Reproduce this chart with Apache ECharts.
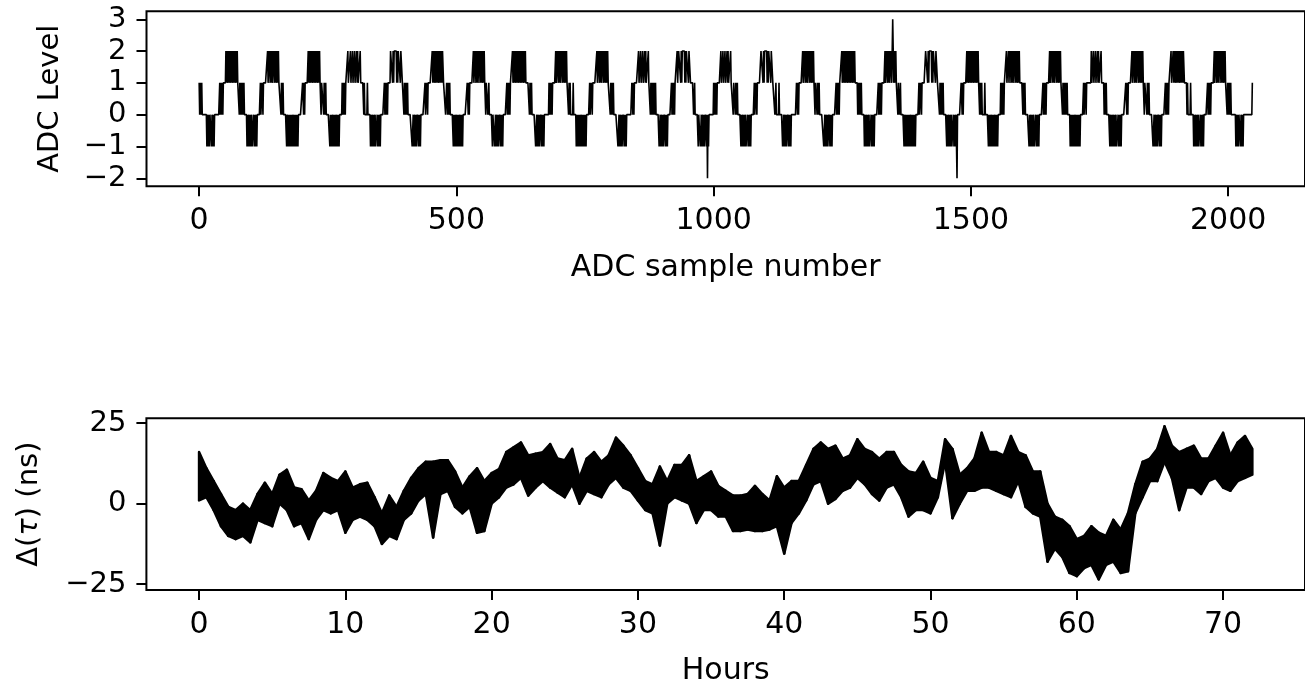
<!DOCTYPE html>
<html><head><meta charset="utf-8">
<script src="https://cdn.jsdelivr.net/npm/echarts@6/dist/echarts.min.js"></script>
<style>html,body{margin:0;padding:0;background:#fff}#chart{width:1305px;height:687px}</style>
</head><body><div id="chart"></div>
<script>
// ---------- DATA ----------
// Top panel: ADC levels, one character per sample ('=' -2, '-' -1, '0' 0, '1' 1, '2' 2, '3' 3)
const adcCycles = [
  "1010010000000" + "00-00-0-000-00-0-00000" + "00000101011011111" + "212212122121221212212121" + "1101",
  "0110100100000" + "-0--0-0--0---0-0--0-00" + "00001001101111111" + "121122121211221212112121" + "1110",
  "1001000000-00" + "-0-0-0-0--0-0-0-0-0-00" + "00000011010111111" + "212212122121221212212121" + "1011",
  "1101001000000" + "0-0-0--0-0-0--0-0-0-00" + "00010010101111211" + "112111211121112121111211" + "1111",
  "0100000100000" + "-0--0-0--0---0-0--0-00" + "00000101011011111" + "222212122222121222212221" + "1101",
  "1010010000000" + "0--0--0-0--00-0-0-0000" + "00001001101111111" + "121212212121221212121221" + "1110",
  "0110100100000" + "0-0-0--0-0-0--0-0-0-00" + "00000011010111111" + "121122121211221212112121" + "1011",
  "1001000000-00" + "0--0--0-0--00-0-0-0000" + "00010010101111211" + "212212122121221212212121" + "1111",
  "1101001000000" + "0--0--0-0--00-0-0-0000" + "00000101011011111" + "121122121211221212112121" + "1101",
  "0100000100000" + "-0-0-0-0--0-0-0-0-0-00" + "00001001101111111" + "121122121211221212112121" + "1110",
  "1010010000000" + "0--0--0-0--00-0-0-0000" + "00000011010111111" + "112111211121112121111211" + "1011",
  "0110100100000" + "0--0--0-0--00-0-0-0000" + "00010010101111211" + "222212122222121222212221" + "1111",
  "1001000000-00" + "0--0--0-0--00-0=0-0000" + "00000101011011111" + "112111211121112121111211" + "1101",
  "1101001000000" + "-0--0-0--0---0-0--0-00" + "00001001101111111" + "222212122222121222212221" + "1110",
  "0100000100000" + "0--0--0-0--00-0-0-0000" + "00000011010111111" + "121122121211221212112121" + "1011",
  "1010010000000" + "0--0--0-0--00-0-0-0000" + "00010010101111211" + "212212122121221212212121" + "1111",
  "0110100100000" + "-0--0-0--0---0-0--0-00" + "00000101011011111" + "121122121211221232112121" + "1101",
  "1001000000-00" + "-0-0-0-0--0-0-0-0-0-00" + "00001001101111111" + "222212122222121222212221" + "1110",
  "1101001000000" + "-0--0-0--0---0-0--0-=0" + "00000011010111111" + "212212122121221212212121" + "1011",
  "0100000100000" + "0-0-0--0-0-0--0-0-0-00" + "00010010101111211" + "121122121211221212112121" + "1111",
  "1010010000000" + "-0--0-0--0---0-0--0-00" + "00000101011011111" + "121122121211221212112121" + "1101",
  "0110100100000" + "-0-0-0-0--0-0-0-0-0-00" + "00001001101111111" + "112111211121112121111211" + "1110",
  "1001000000-00" + "-0--0-0--0---0-0--0-00" + "00000011010111111" + "121122121211221212112121" + "1011",
  "1101001000000" + "0--0--0-0--00-0-0-0000" + "00010010101111211" + "121212212121221212121221" + "1111",
  "0100000100000" + "-0--0-0--0---0-0--0-00" + "00000101011011111" + "121122121211221212112121" + "1101",
  "1010010000000" + "00-00-0-000-00-0-00000" + "0000000000001"
];
const adcLevelCodes = {"=": -2, "-": -1, "0": 0, "1": 1, "2": 2, "3": 3};
const adcXTicks = [0, 500, 1000, 1500, 2000];
const adcYTicks = [-2, -1, 0, 1, 2, 3];

// Bottom panel: the dense cloud of delay points (ns), read as its upper and
// lower edge every 0.5 h from 0 h to 72 h
const delayStepHours = 0.5;
const delayUpper = [
  16, 11, 7, 3, -1, -2, 0, -2, 3, 6.5, 3, 9, 10.5, 5, 4.5, 1,
  4, 9.5, 8, 7, 10, 5, 6, 6.5, 2, -3, 2.5, -1, 4, 8, 11, 13,
  13, 13.5, 13.5, 10, 5, 8.5, 11, 7, 9.5, 10.7, 16, 17.5, 19, 15, 15.5, 16,
  18.5, 14, 13.5, 17, 8, 14, 16, 13, 15, 20.5, 18, 15, 11, 7, 6, 11.5,
  7, 12, 12, 15, 7, 8.5, 10, 5.5, 4, 2.5, 2.5, 3, 5.5, 3, 1, 8.5,
  5, 7, 7, 12, 17, 19, 17, 18, 14, 15, 20, 17, 16, 14, 16, 16,
  12, 10, 9.5, 13, 8, 7, 20, 17, 9, 11, 14, 22, 16, 16, 15, 21,
  16, 15, 10, 10, 0, -4, -5, -7, -11, -10, -7, -9, -10, -5, -8, -3,
  6, 13, 14, 17, 24, 18, 16, 17, 18, 14, 14, 18, 22, 15, 19, 21,
  17
];
const delayLower = [
  1, 2, -2, -7, -10, -11, -10, -12, -5, -6, -7, 0, -2, -7, -6, -11,
  -5, -2, -3, -2, -9, -5, -4, -5, -7, -12.5, -10, -11, -5, -3, 1, 3,
  -10.5, 3, 4, -1, -3, -1, -9, -8.5, 0, 2, 5, 6, 8, 2.5, 5, 7,
  5, 3.5, 2, 6, 0, 4, 3, 2, 6, 8, 5, 4, 1, -2, -3, -13,
  0, 2, 1, 0, -6, -2, -2, -4, -4, -8.5, -8.5, -8, -8.5, -8.5, -8, -7,
  -15.5, -6, -3, 1, 6, 7, 0, 1.5, 4, 5, 8, 6, 3, 1, 5, 6,
  2, -4, -2, -2, -3, 2, 13, -4.5, 0, 4, 4, 5, 5, 4, 3, 2,
  7, -1, -3, -4, -18, -14, -16.5, -21.5, -22.5, -20, -19, -23.5, -19, -18, -21.5, -21,
  -3, 2, 7, 7, 13, 8, -2, 5, 5, 3, 7, 8, 5, 4, 7, 8,
  9
];
const hourTicks = [0, 10, 20, 30, 40, 50, 60, 70];
const delayTicks = [-25, 0, 25];

// ---------- BUILD ----------
const adcData = Array.from(adcCycles.join("")).map((c, i) => [i, adcLevelCodes[c]]);
const bandData = delayUpper.map((v, i) => [i * delayStepHours, v, delayLower[i]]);

const FONT = "DejaVu Sans";
const FSX = 30;
const FSY = 29;
const minus = v => String(v).replace("-", "\u2212");

function xAx(gridIndex, min, max, ticks, name, gap) {
  return {
    type: "value", gridIndex, min, max,
    name, nameLocation: "middle", nameGap: gap,
    nameTextStyle: {fontFamily: FONT, fontSize: FSX, color: "#000"},
    axisLine: {show: false, onZero: false},
    axisTick: {show: true, inside: false, length: 10, lineStyle: {color: "#000", width: 2}, customValues: ticks},
    axisLabel: {show: true, customValues: ticks, margin: 20, fontFamily: FONT, fontSize: FSX, color: "#000", formatter: minus},
    splitLine: {show: false}
  };
}
function yAx(gridIndex, min, max, ticks, name, gap, rich) {
  return {
    type: "value", gridIndex, min, max,
    name, nameLocation: "middle", nameGap: gap, nameRotate: 90,
    nameTextStyle: {fontFamily: FONT, fontSize: FSY, color: "#000", rich: rich},
    axisLine: {show: false, onZero: false},
    axisTick: {show: true, inside: false, length: 10, lineStyle: {color: "#000", width: 2}, customValues: ticks},
    axisLabel: {show: true, customValues: ticks, margin: 20, fontFamily: FONT, fontSize: FSY, color: "#000", formatter: minus},
    splitLine: {show: false}
  };
}

function renderBand(params, api) {
  const i = params.dataIndex;
  if (i >= bandData.length - 1) return null;
  const a = bandData[i], b = bandData[i + 1];
  const pts = [
    api.coord([a[0], a[1]]), api.coord([b[0], b[1]]),
    api.coord([b[0], b[2]]), api.coord([a[0], a[2]])
  ];
  return {
    type: "polygon",
    shape: {points: pts},
    style: {fill: "#000", stroke: "#000", lineWidth: 2.5, lineJoin: "round"}
  };
}

const chart = echarts.init(document.getElementById("chart"), null, {renderer: "canvas"});
chart.setOption({
  animation: false,
  backgroundColor: "#fff",
  grid: [
    {left: 146.5, top: 11.3, width: 1163.5, height: 174.9, show: true, borderColor: "#000", borderWidth: 2, backgroundColor: "transparent"},
    {left: 146.4, top: 418.3, width: 1164.2, height: 174.4, show: true, borderColor: "#000", borderWidth: 2, backgroundColor: "transparent"}
  ],
  xAxis: [
    xAx(0, -102.35, 2149.35, adcXTicks, "ADC sample number", 67),
    xAx(1, -3.6, 75.6, hourTicks, "Hours", 66)
  ],
  yAxis: [
    yAx(0, -2.25, 3.25, adcYTicks, "ADC Level", 82),
    yAx(1, -26.8, 26.5, delayTicks, "{t|Δ(}{i|τ}{t|) (ns)}", 102, {
      t: {fontFamily: FONT, fontSize: FSY, color: "#000"},
      i: {fontFamily: FONT, fontSize: FSY, fontStyle: "italic", color: "#000"}
    })
  ],
  series: [
    {type: "line", xAxisIndex: 0, yAxisIndex: 0, data: adcData, symbol: "none", showSymbol: false,
     lineStyle: {color: "#000", width: 1.6}, silent: true},
    {type: "custom", xAxisIndex: 1, yAxisIndex: 1, data: bandData, renderItem: renderBand,
     encode: {x: 0, y: [1, 2]}, silent: true}
  ]
});
</script>
</body></html>
